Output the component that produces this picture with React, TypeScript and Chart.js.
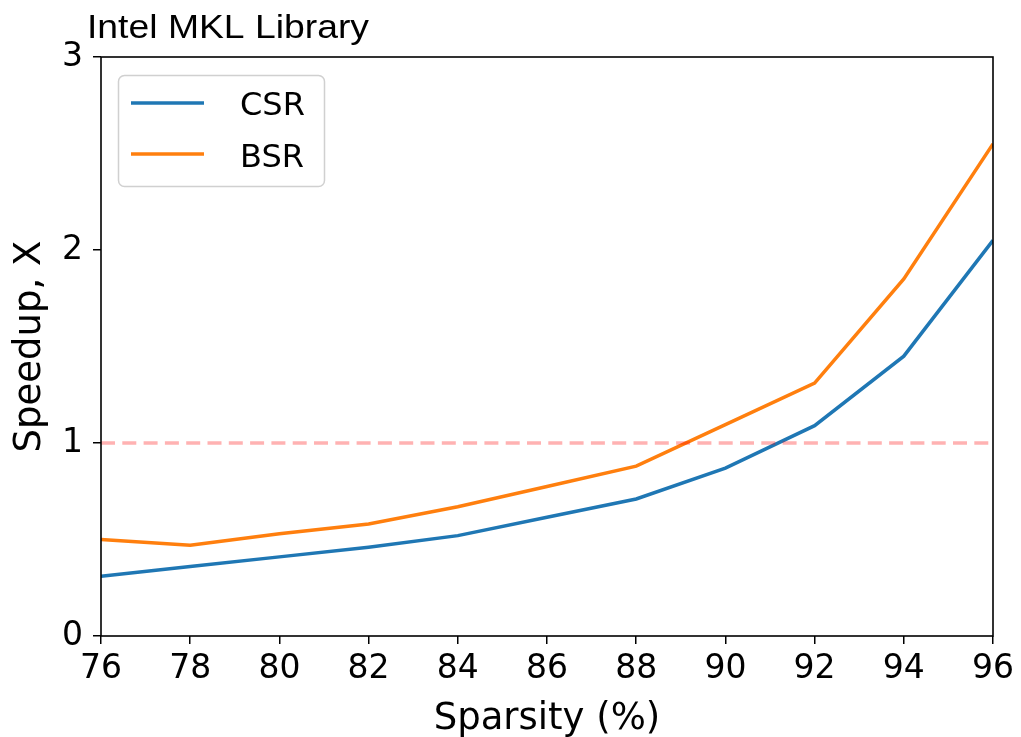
import React, { useEffect, useRef } from "react";
import { Chart, registerables } from "chart.js";

Chart.register(...registerables);

const sparsity = [76, 78, 80, 82, 84, 86, 88, 90, 92, 94, 96];
const csr = [0.31, 0.36, 0.41, 0.46, 0.52, 0.615, 0.71, 0.87, 1.09, 1.45, 2.05];
const bsr = [0.5, 0.47, 0.53, 0.58, 0.67, 0.775, 0.88, 1.095, 1.31, 1.85, 2.55];
const baseline = [1, 1];
const xTicks = [76, 78, 80, 82, 84, 86, 88, 90, 92, 94, 96];
const yTicks = [0, 1, 2, 3];
const seriesNames = ["CSR", "BSR"];
const seriesColors = ["#1f77b4", "#ff7f0e"];
const chartTitle = "Intel MKL Library";
const xTitle = "Sparsity (%)";
const yTitle = "Speedup, X";

const FONT = "'DejaVu Sans', sans-serif";

const framePlugin = {
  id: "frame",
  afterDatasetsDraw(chart: any) {
    const { ctx, chartArea } = chart;
    ctx.save();
    ctx.strokeStyle = "#000";
    ctx.lineWidth = 1.6;
    ctx.strokeRect(chartArea.left, chartArea.top, chartArea.right - chartArea.left, chartArea.bottom - chartArea.top);
    ctx.restore();
  },
  afterDraw(chart: any) {
    const { ctx } = chart;
    ctx.save();
    // title
    ctx.fillStyle = "#000";
    ctx.font = "34px 'Liberation Sans', Arial, sans-serif";
    ctx.textAlign = "left";
    ctx.textBaseline = "alphabetic";
    const w = ctx.measureText(chartTitle).width;
    const sx = 282 / w;
    ctx.save();
    ctx.translate(87, 38);
    ctx.scale(sx, 1);
    ctx.fillText(chartTitle, 0, 0);
    ctx.restore();
    // legend
    const bx = 118.5, by = 75.5, bw = 206, bh = 111;
    ctx.beginPath();
    ctx.roundRect(bx, by, bw, bh, 6);
    ctx.fillStyle = "rgba(255,255,255,0.8)";
    ctx.fill();
    ctx.strokeStyle = "#d0d0d0";
    ctx.lineWidth = 1.5;
    ctx.stroke();
    const rows = [103, 154];
    const bases = [115, 167];
    seriesNames.forEach((name, i) => {
      ctx.beginPath();
      ctx.strokeStyle = seriesColors[i];
      ctx.lineWidth = 3.5;
      ctx.moveTo(131, rows[i]);
      ctx.lineTo(204, rows[i]);
      ctx.stroke();
      ctx.fillStyle = "#000";
      ctx.font = `32px ${FONT}`;
      ctx.fillText(name, 240, bases[i]);
    });
    ctx.restore();
  },
};

export default function App() {
  const ref = useRef<HTMLCanvasElement | null>(null);
  useEffect(() => {
    document.body.style.margin = "0";
    const canvas = ref.current!;
    const chart = new Chart(canvas, {
      type: "line",
      data: {
        datasets: [
          {
            label: "baseline",
            data: [
              { x: sparsity[0], y: baseline[0] },
              { x: sparsity[sparsity.length - 1], y: baseline[1] },
            ],
            borderColor: "rgba(255,0,0,0.3)",
            borderWidth: 3.5,
            borderDash: [14, 7.3],
            borderCapStyle: "butt",
            pointRadius: 0,
            order: -1,
          },
          {
            label: seriesNames[0],
            data: sparsity.map((x, i) => ({ x, y: csr[i] })),
            borderColor: seriesColors[0],
            borderWidth: 3.5,
            pointRadius: 0,
            tension: 0,
            order: 0,
          },
          {
            label: seriesNames[1],
            data: sparsity.map((x, i) => ({ x, y: bsr[i] })),
            borderColor: seriesColors[1],
            borderWidth: 3.5,
            pointRadius: 0,
            tension: 0,
            order: 1,
          },
        ],
      },
      options: {
        animation: false,
        responsive: false,
        layout: { padding: { left: 0, top: 57, right: 28, bottom: 0 } },
        plugins: { legend: { display: false }, tooltip: { enabled: false }, title: { display: false } },
        scales: {
          x: {
            type: "linear",
            min: 76,
            max: 96,
            afterBuildTicks: (s: any) => {
              s.ticks = xTicks.map((v) => ({ value: v }));
            },
            afterFit: (s: any) => {
              s.height = 101;
            },
            border: { display: false },
            grid: { drawOnChartArea: false, drawTicks: true, tickLength: 8, color: "#000", lineWidth: 1.5 },
            ticks: { color: "#000", font: { family: FONT, size: 33 }, padding: 6, maxRotation: 0, autoSkip: false },
            title: {
              display: true,
              text: xTitle,
              color: "#000",
              font: { family: FONT, size: 37, lineHeight: 1 },
              padding: { top: 0, bottom: -1 },
            },
          },
          y: {
            type: "linear",
            min: 0,
            max: 3,
            afterBuildTicks: (s: any) => {
              s.ticks = yTicks.map((v) => ({ value: v }));
            },
            afterFit: (s: any) => {
              s.width = 101;
            },
            border: { display: false },
            grid: { drawOnChartArea: false, drawTicks: true, tickLength: 8, color: "#000", lineWidth: 1.5 },
            ticks: { color: "#000", font: { family: FONT, size: 33 }, padding: 10 },
            title: {
              display: true,
              text: yTitle,
              color: "#000",
              font: { family: FONT, size: 37, lineHeight: 1 },
              padding: { top: 12, bottom: 0 },
            },
          },
        },
      },
      plugins: [framePlugin],
    });
    return () => chart.destroy();
  }, []);
  return (
    <div style={{ width: 1021, height: 737 }}>
      <canvas ref={ref} width={1021} height={737} style={{ display: "block" }} />
    </div>
  );
}
